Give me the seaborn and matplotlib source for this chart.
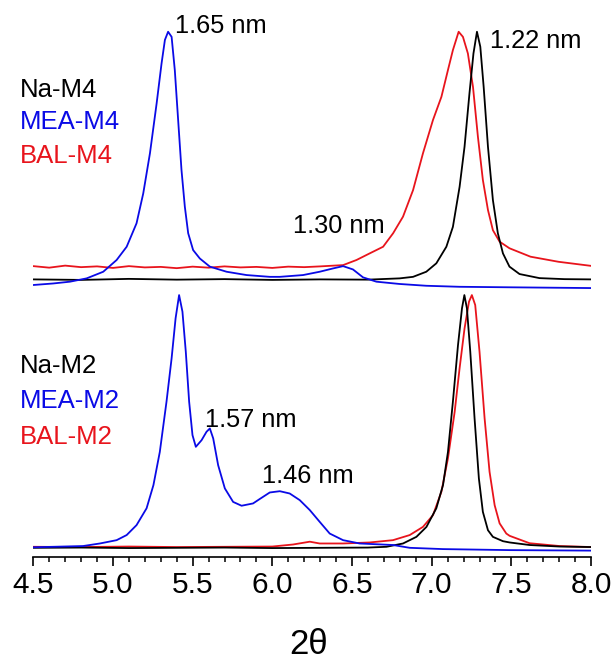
import matplotlib
matplotlib.use("Agg")
import matplotlib.pyplot as plt
from matplotlib.ticker import MultipleLocator, FormatStrFormatter
import seaborn as sns

# ---- XRD patterns (2-theta in degrees, intensity normalised to the strongest peak) ----
# Upper set: M4 samples
na_m4_x = [4.50, 4.80, 5.10, 5.40, 5.70, 6.00, 6.30, 6.60, 6.799, 6.883, 6.966, 7.029,
           7.092, 7.133, 7.175, 7.206, 7.237, 7.262, 7.284, 7.305, 7.326, 7.353, 7.384,
           7.415, 7.447, 7.488, 7.551, 7.676, 7.832, 8.000]
na_m4_y = [3.4, 3.2, 3.6, 3.3, 3.5, 3.2, 3.4, 3.3, 3.8, 4.4, 6.4, 9.7,
           16.2, 24.0, 39.7, 55.4, 76.4, 92.0, 100.5, 94.6, 78.9, 55.4, 34.5,
           21.5, 13.6, 8.4, 5.5, 3.9, 3.5, 3.4]

mea_m4_x = [4.500, 4.625, 4.730, 4.835, 4.939, 5.023, 5.086, 5.148, 5.190, 5.232, 5.274,
            5.305, 5.326, 5.346, 5.368, 5.388, 5.409, 5.430, 5.451, 5.472, 5.503, 5.545,
            5.608, 5.713, 5.838, 5.984, 6.047, 6.193, 6.297, 6.381, 6.444, 6.506, 6.569,
            6.653, 6.799, 6.966, 7.174, 7.488, 8.000]
mea_m4_y = [1.2, 1.8, 2.5, 3.8, 6.4, 11.0, 16.2, 25.4, 37.1, 52.8, 72.4,
            88.1, 97.3, 100.5, 98.5, 85.5, 65.9, 46.3, 31.9, 21.5, 14.9, 11.6,
            8.4, 6.4, 5.1, 4.4, 4.4, 5.1, 6.4, 7.7, 8.6, 7.3, 4.2,
            2.5, 1.6, 0.9, 0.5, 0.3, 0.0]

bal_m4_x = [4.5, 4.6, 4.7, 4.8, 4.9, 5.0, 5.1, 5.2, 5.3, 5.4, 5.5, 5.6, 5.7, 5.8, 5.9,
            6.0, 6.1, 6.2, 6.3, 6.444, 6.528, 6.611, 6.695, 6.758, 6.820, 6.883, 6.945,
            7.008, 7.061, 7.102, 7.133, 7.169, 7.196, 7.227, 7.259, 7.290, 7.321, 7.353,
            7.384, 7.426, 7.488, 7.620, 7.796, 8.000]
bal_m4_y = [8.6, 8.0, 8.8, 8.2, 8.5, 7.9, 8.6, 8.1, 8.3, 7.8, 8.4, 8.0, 8.5, 8.1, 8.3,
            7.9, 8.4, 8.2, 8.5, 9.0, 11.0, 13.6, 16.2, 21.5, 28.0, 38.4, 52.8,
            65.9, 75.0, 85.5, 93.3, 100.5, 98.5, 92.0, 78.9, 59.3, 42.4, 30.6,
            22.7, 18.2, 15.6, 12.3, 10.3, 8.7]

# Lower set: M2 samples
na_m2_x = [4.5, 4.8, 5.1, 5.4, 5.7, 6.0, 6.3, 6.6, 6.716, 6.820, 6.904, 6.967, 7.029,
           7.071, 7.102, 7.133, 7.165, 7.190, 7.205, 7.221, 7.242, 7.269, 7.296, 7.321,
           7.353, 7.384, 7.447, 7.489, 7.614, 7.802, 8.0]
na_m2_y = [0.9, 1.0, 0.8, 0.9, 1.0, 0.8, 0.9, 1.0, 1.3, 2.6, 5.2, 9.1, 16.4,
           25.5, 38.5, 58.2, 80.4, 94.8, 100.0, 94.8, 77.8, 51.6, 28.1, 15.0,
           7.8, 5.2, 3.5, 3.0, 2.0, 1.4, 1.2]

mea_m2_x = [4.500, 4.813, 4.918, 5.023, 5.086, 5.148, 5.211, 5.254, 5.294, 5.336, 5.368,
            5.393, 5.415, 5.436, 5.457, 5.478, 5.499, 5.520, 5.556, 5.587, 5.608, 5.629,
            5.660, 5.702, 5.754, 5.807, 5.879, 5.920, 5.984, 6.047, 6.109, 6.172, 6.235,
            6.297, 6.360, 6.444, 6.548, 6.757, 6.862, 7.070, 7.488, 8.000]
mea_m2_y = [1.1, 1.6, 2.6, 3.9, 5.9, 9.8, 16.4, 25.5, 38.5, 58.2, 75.2,
            90.9, 100.0, 93.5, 77.8, 58.2, 45.1, 40.5, 43.1, 46.4, 47.7, 43.8,
            33.3, 24.2, 18.9, 17.4, 18.3, 20.0, 22.6, 23.1, 22.2, 19.6, 15.7,
            11.1, 6.5, 3.9, 2.6, 2.0, 0.9, 0.4, 0.0, -0.2]

bal_m2_x = [4.5, 4.8, 5.1, 5.4, 5.7, 6.0, 6.130, 6.235, 6.297, 6.444, 6.611, 6.757,
            6.862, 6.945, 7.008, 7.061, 7.102, 7.144, 7.175, 7.206, 7.234, 7.252, 7.273,
            7.300, 7.332, 7.363, 7.395, 7.426, 7.468, 7.489, 7.614, 7.802, 8.0]
bal_m2_y = [1.3, 1.2, 1.4, 1.2, 1.3, 1.4, 2.2, 3.3, 2.6, 2.6, 3.0, 3.9,
            5.9, 9.1, 13.7, 22.9, 36.0, 54.2, 71.3, 86.9, 97.4, 100.0, 96.1,
            77.8, 51.6, 30.7, 17.6, 10.5, 6.5, 5.6, 2.7, 1.6, 1.2]

# vertical shift of the M4 set above the M2 set
m4_offset = 102.75

labels_m4 = ["Na-M4", "MEA-M4", "BAL-M4"]
labels_m2 = ["Na-M2", "MEA-M2", "BAL-M2"]
colors = ["black", "#0a0ae6", "#e8141c"]

# d-spacing annotations: (text, 2-theta of text start, intensity of baseline)
peak_notes = [("1.65 nm", 5.388, 202.6),
              ("1.22 nm", 7.363, 196.8),
              ("1.30 nm", 6.130, 124.2),
              ("1.57 nm", 5.577, 48.4),
              ("1.46 nm", 5.934, 26.2)]

sns.set_theme(style="white")
plt.rcParams["font.family"] = ["Liberation Sans", "DejaVu Sans"]

fig = plt.figure(figsize=(6.15, 6.62), dpi=100)
ax = fig.add_axes([0.0541, 0.159, 0.907, 0.841])

lw = 1.3
upper = [(na_m4_x, na_m4_y), (mea_m4_x, mea_m4_y), (bal_m4_x, bal_m4_y)]
lower = [(na_m2_x, na_m2_y), (mea_m2_x, mea_m2_y), (bal_m2_x, bal_m2_y)]
draw_order = [2, 0, 1]
for i in draw_order:
    xs, ys = upper[i]
    sns.lineplot(x=xs, y=[v + m4_offset for v in ys], color=colors[i], lw=lw,
                 sort=False, estimator=None, ax=ax)
for i in draw_order:
    xs, ys = lower[i]
    sns.lineplot(x=xs, y=ys, color=colors[i], lw=lw, sort=False, estimator=None, ax=ax)

ax.set_xlim(4.5, 8.0)
ax.set_ylim(-2.6, 215.7)
ax.set_yticks([])
ax.set_ylabel("")

for side in ["left", "top", "right"]:
    ax.spines[side].set_visible(False)
ax.spines["bottom"].set_color("black")
ax.spines["bottom"].set_linewidth(1.2)

ax.xaxis.set_major_locator(MultipleLocator(0.5))
ax.xaxis.set_minor_locator(MultipleLocator(0.1))
ax.xaxis.set_major_formatter(FormatStrFormatter("%.1f"))
ax.tick_params(axis="x", which="major", direction="out", length=6.5, width=1.2,
               color="black", bottom=True, labelsize=21.5, pad=4, labelcolor="black")
ax.tick_params(axis="x", which="minor", direction="out", length=3.3, width=1.1,
               color="black", bottom=True)

ax.set_xlabel("2θ", fontsize=25, color="black")
ax.xaxis.set_label_coords(0.4943, -0.128)

# sample names
name_x = 4.417
for txt, col, yb in zip(labels_m4, colors, [177.8, 165.0, 151.9]):
    ax.text(name_x, yb, txt, color=col, fontsize=18.5, ha="left", va="baseline",
            clip_on=False)
for txt, col, yb in zip(labels_m2, colors, [69.3, 55.6, 41.8]):
    ax.text(name_x, yb, txt, color=col, fontsize=18.5, ha="left", va="baseline",
            clip_on=False)

for txt, xx, yy in peak_notes:
    ax.text(xx, yy, txt, color="black", fontsize=18.3, ha="left", va="baseline")

fig.savefig("out.png", dpi=100, facecolor="white")
